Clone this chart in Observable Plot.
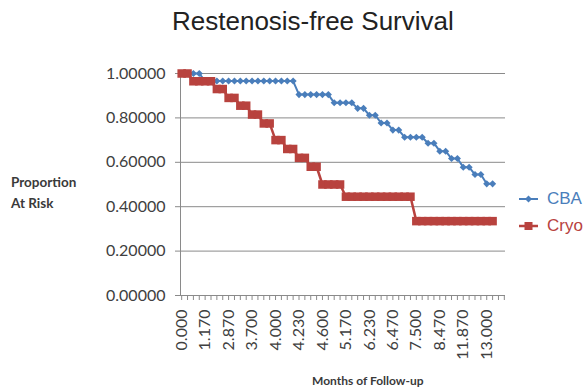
<!DOCTYPE html>
<html><head><meta charset="utf-8">
<script src="https://cdn.jsdelivr.net/npm/d3@7"></script>
<script src="https://cdn.jsdelivr.net/npm/@observablehq/plot@0.6"></script>
<style>
body{margin:0;background:#fff;}
#wrap{position:relative;width:588px;height:392px;overflow:hidden;background:#fff;}
#title{height:50px;box-sizing:border-box;padding-top:8px;padding-left:172px;font:26px/26px "Liberation Sans",Arial,sans-serif;color:#222;white-space:nowrap;}
#chart svg{display:block;}
.axt{position:absolute;font-family:Lato,sans-serif;font-weight:bold;color:#3a3a3a;white-space:nowrap;}
#ytitle{left:11px;top:172px;font-size:13.5px;line-height:21px;}
#xtitle{left:312px;top:374px;font-size:12px;line-height:14px;}
.leg{position:absolute;left:518px;height:20px;display:flex;align-items:center;font:17px "Liberation Sans",Arial,sans-serif;}
.leg svg{margin-right:8px;}
</style></head><body>
<div id="wrap">
<div id="title">Restenosis-free Survival</div>
<div id="chart"></div>
<div id="ytitle" class="axt">Proportion<br>At Risk</div>
<div id="xtitle" class="axt">Months of Follow-up</div>
<div class="leg" style="top:189px;color:#4a7ebb"><svg width="21" height="10"><line x1="1" x2="20" y1="5" y2="5" stroke="#4a7ebb" stroke-width="2"/><path d="M10.5 1.5 L14 5 L10.5 8.5 L7 5 Z" fill="#4a7ebb"/></svg>CBA</div>
<div class="leg" style="top:216px;color:#b8423e"><svg width="21" height="10"><line x1="1" x2="20" y1="5" y2="5" stroke="#b8423e" stroke-width="2.5"/><rect x="6.5" y="1" width="8" height="8" fill="#b8423e"/></svg>Cryo</div>
</div>
<script>
// Category tick labels (months of follow-up), shown every 4th category
const xLabels = ["0.000","1.170","2.870","3.700","4.000","4.230","4.600","5.170","6.230","6.470","7.500","8.470","11.870","13.000"];
const labelIndex = [0,4,8,12,16,20,24,28,32,36,40,44,48,52];
const categoryTicks = [0,1,2,3,4,5,6,7,8,9,10,11,12,13,14,15,16,17,18,19,20,21,22,23,24,25,26,27,28,29,30,31,32,33,34,35,36,37,38,39,40,41,42,43,44,45,46,47,48,49,50,51,52,53,54,55];
const yTicks = [0,0.2,0.4,0.6,0.8,1.0];

// Proportion at risk per category
const cba = [1.0,1.0,1.0,1.0,
  0.966,0.966,0.966,0.966,0.966,0.966,0.966,0.966,0.966,0.966,0.966,0.966,0.966,0.966,0.966,0.966,
  0.905,0.905,0.905,0.905,0.905,0.905,
  0.868,0.868,0.868,0.868,
  0.843,0.843,0.812,0.812,0.777,0.777,0.745,0.745,
  0.713,0.713,0.713,0.713,
  0.686,0.686,0.650,0.650,0.617,0.617,0.578,0.578,0.545,0.545,0.503,0.503];
const cryo = [1.0,1.0,
  0.965,0.965,0.965,0.965,
  0.93,0.93,0.89,0.89,0.855,0.855,0.815,0.815,0.775,0.775,0.70,0.70,0.66,0.66,0.62,0.62,0.58,0.58,
  0.50,0.50,0.50,0.50,
  0.445,0.445,0.445,0.445,0.445,0.445,0.445,0.445,0.445,0.445,0.445,0.445,
  0.335,0.335,0.335,0.335,0.335,0.335,0.335,0.335,0.335,0.335,0.335,0.335,0.335,0.335];

const blue = "#4a7ebb", red = "#b8423e", grid = "#8a8a8a";
const cbaData = cba.map((v, i) => ({i, v}));
const cryoData = cryo.map((v, i) => ({i, v}));

const chart = Plot.plot({
  width: 588, height: 342,
  marginTop: 23, marginBottom: 97, marginLeft: 180, marginRight: 83,
  style: {fontFamily: "Lato, sans-serif", background: "#fff"},
  x: {domain: [-0.2, 55.2]},
  y: {domain: [0, 1]},
  marks: [
    Plot.gridY(yTicks, {stroke: grid, strokeOpacity: 1, strokeWidth: 1}),
    Plot.ruleX([-0.2], {stroke: grid, strokeWidth: 1}),
    Plot.ruleY([0], {stroke: grid, strokeWidth: 1}),
    Plot.axisY({ticks: yTicks, tickFormat: d3.format(".5f"), tickSize: 5, tickPadding: 10, fontSize: 16, fill: "#404040", stroke: grid, label: null}),
    Plot.axisX({ticks: categoryTicks, tickSize: 5, tickFormat: () => "", stroke: grid, label: null}),
    Plot.axisX({ticks: labelIndex, tickSize: 0, tickPadding: 14, tickRotate: -90, fontSize: 16, fill: "#404040",
      tickFormat: d => xLabels[labelIndex.indexOf(d)], label: null}),
    Plot.line(cbaData, {x: "i", y: "v", stroke: blue, strokeWidth: 2}),
    Plot.dot(cbaData, {x: "i", y: "v", symbol: "diamond2", r: 3.2, fill: blue, stroke: "none"}),
    Plot.line(cryoData, {x: "i", y: "v", stroke: red, strokeWidth: 2.5}),
    Plot.dot(cryoData, {x: "i", y: "v", symbol: "square", r: 4.8, fill: red, stroke: "none"})
  ]
});
document.getElementById("chart").appendChild(chart);
</script>
</body></html>
